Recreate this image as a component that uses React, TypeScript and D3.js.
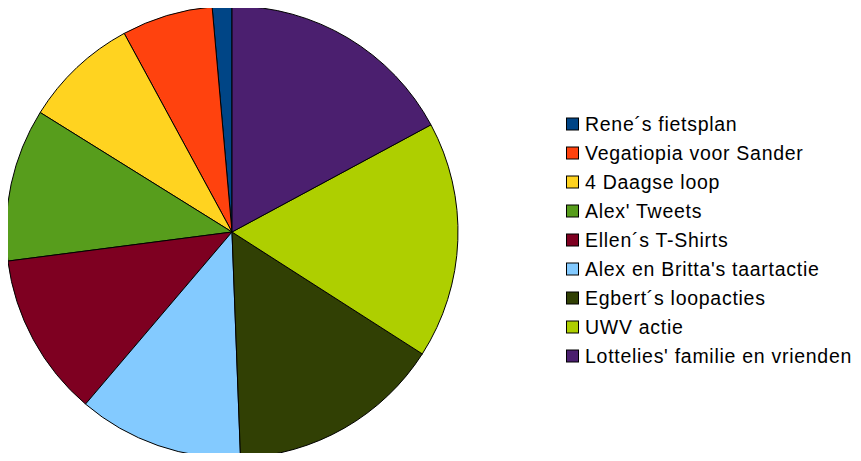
import React, { useEffect, useRef } from 'react';
import * as d3 from 'd3';

const labels = [
  'Rene´s fietsplan',
  'Vegatiopia voor Sander',
  '4 Daagse loop',
  "Alex' Tweets",
  'Ellen´s T-Shirts',
  "Alex en Britta's taartactie",
  'Egbert´s loopacties',
  'UWV actie',
  "Lottelies' familie en vrienden",
];
const values = [1.4, 6.5, 8.2, 10.9, 11.7, 11.8, 15.3, 16.9, 17.1];
const colors = ['#004586', '#ff420e', '#ffd320', '#579d1c', '#7e0021', '#83caff', '#314004', '#aecf00', '#4b1f6f'];

type Slice = { label: string; value: number; color: string };

const App: React.FC = () => {
  const ref = useRef<SVGSVGElement | null>(null);

  useEffect(() => {
    if (!ref.current) return;
    const svg = d3.select(ref.current);
    svg.selectAll('*').remove();

    const data: Slice[] = labels.map((l, i) => ({ label: l, value: values[i], color: colors[i] }));
    const cx = 232;
    const cy = 232;
    const radius = 226;

    // slices run counterclockwise from the top, first item first
    const pie = d3
      .pie<Slice>()
      .value((d) => d.value)
      .sort(null)
      .startAngle(0)
      .endAngle(-2 * Math.PI);
    const arc = d3.arc<d3.PieArcDatum<Slice>>().innerRadius(0).outerRadius(radius);

    const g = svg.append('g').attr('transform', `translate(${cx},${cy})`);
    g.selectAll('path')
      .data(pie(data))
      .enter()
      .append('path')
      .attr('d', arc)
      .attr('fill', (d) => d.data.color)
      .attr('stroke', '#000')
      .attr('stroke-width', 1)
      .attr('stroke-linejoin', 'round');

    // legend
    const legendY = d3.scalePoint<string>().domain(labels).range([124, 356]);
    const legend = svg.append('g');
    const rows = legend
      .selectAll('g')
      .data(data)
      .enter()
      .append('g')
      .attr('transform', (d) => `translate(566,${legendY(d.label)})`);
    rows
      .append('rect')
      .attr('x', 0.5)
      .attr('y', -6)
      .attr('width', 12)
      .attr('height', 12)
      .attr('fill', (d) => d.color)
      .attr('stroke', '#000')
      .attr('stroke-width', 1);
    rows
      .append('text')
      .attr('x', 19)
      .attr('y', 7)
      .attr('font-family', '"Liberation Sans", Arial, sans-serif')
      .attr('font-size', 19.5)
      .attr('letter-spacing', 0.72)
      .attr('fill', '#000')
      .text((d) => d.label);
  }, []);

  return (
    <div style={{ margin: -8 }}>
      <svg ref={ref} width={861} height={461} style={{ display: 'block' }} />
    </div>
  );
};

export default App;
